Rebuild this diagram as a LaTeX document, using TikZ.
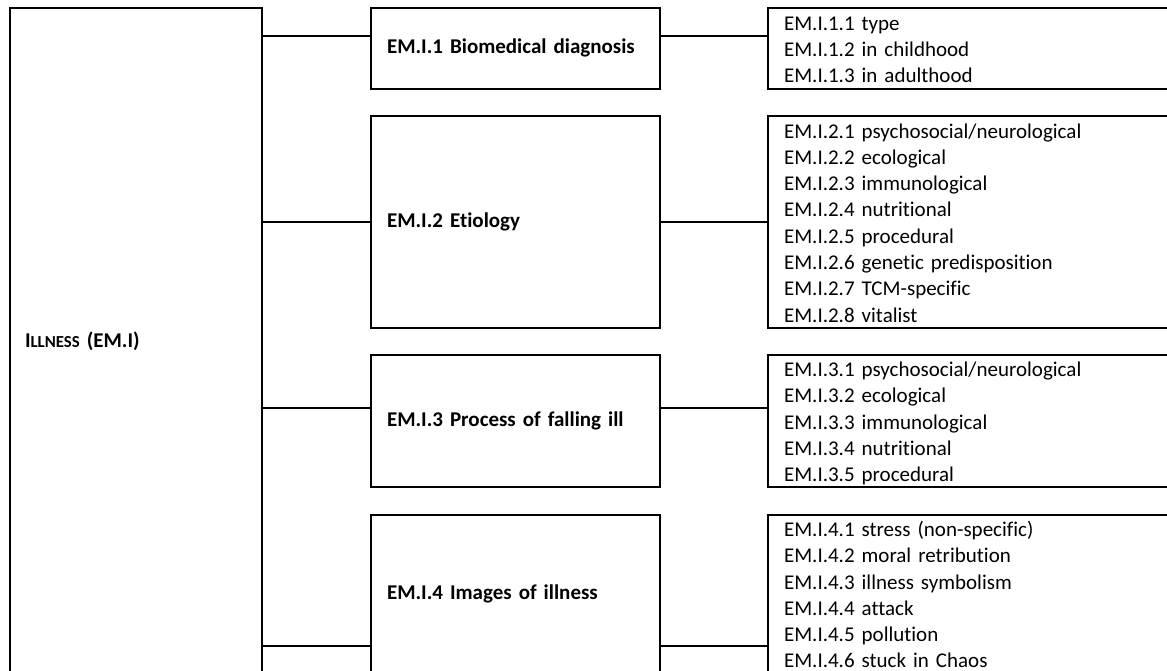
\documentclass[tikz,border=0pt]{standalone}
\usepackage{fontspec}
\setmainfont{Carlito}[Ligatures=NoCommon]
\newcommand{\ls}{\rule[-5pt]{0pt}{26.3pt}}
\begin{document}
\begin{tikzpicture}[x=1pt,y=-1pt,line width=2pt,
  every node/.style={font=\fontsize{21}{26.3}\selectfont},
  frame/.style={draw,line width=2pt,rectangle,anchor=north west,outer sep=0pt,inner ysep=0pt,align=left},
  rootbox/.style={frame,minimum width=252pt,text width=222pt,inner xsep=15pt,font=\fontsize{21}{26.3}\selectfont\bfseries,text height=15.75pt,text depth=5.25pt},
  midbox/.style={frame,minimum width=289pt,text width=257pt,inner xsep=16pt,font=\fontsize{21}{26.3}\selectfont\bfseries,text height=15.75pt,text depth=5.25pt},
  leafbox/.style={frame,minimum width=420pt,text width=388pt,inner xsep=16pt},
  link/.style={draw,line width=2pt}]
\useasboundingbox (0,0) rectangle (1167,671);
\clip (0,0) rectangle (1167,671);

\node[rootbox,minimum height=669pt] (root) at (10,8) {I{\fontsize{16.8}{20}\selectfont LLNESS} (EM.I)};

\node[midbox,minimum height=81pt]  (m1) at (371,8)   {EM.I.1 Biomedical diagnosis};
\node[midbox,minimum height=212pt] (m2) at (371,116) {EM.I.2 Etiology};
\node[midbox,minimum height=132pt] (m3) at (371,355) {EM.I.3 Process of falling ill};
\node[midbox,minimum height=158pt] (m4) at (371,515) {EM.I.4 Images of illness};

\node[leafbox,minimum height=81pt] (r1) at (768,8) {\ls EM.I.1.1 type\\\ls EM.I.1.2 in childhood\\\ls EM.I.1.3 in adulthood};
\node[leafbox,minimum height=212pt] (r2) at (768,116) {\ls EM.I.2.1 psychosocial/neurological\\\ls EM.I.2.2 ecological\\\ls EM.I.2.3 immunological\\\ls EM.I.2.4 nutritional\\\ls EM.I.2.5 procedural\\\ls EM.I.2.6 genetic predisposition\\\ls EM.I.2.7 TCM-specific\\\ls EM.I.2.8 vitalist};
\node[leafbox,minimum height=132pt] (r3) at (768,355) {\ls EM.I.3.1 psychosocial/neurological\\\ls EM.I.3.2 ecological\\\ls EM.I.3.3 immunological\\\ls EM.I.3.4 nutritional\\\ls EM.I.3.5 procedural};
\node[leafbox,minimum height=158pt] (r4) at (768,515) {\ls EM.I.4.1 stress (non-specific)\\\ls EM.I.4.2 moral retribution\\\ls EM.I.4.3 illness symbolism\\\ls EM.I.4.4 attack\\\ls EM.I.4.5 pollution\\\ls EM.I.4.6 stuck in Chaos};

\coordinate (y1) at (0,35.7);
\coordinate (y2) at (0,222);
\coordinate (y3) at (0,408);
\coordinate (y4) at (0,646);

\draw[link] (y1 -| root.east) -- (y1 -| m1.west);
\draw[link] (y2 -| root.east) -- (y2 -| m2.west);
\draw[link] (y3 -| root.east) -- (y3 -| m3.west);
\draw[link] (y4 -| root.east) -- (y4 -| m4.west);

\draw[link] (y1 -| m1.east) -- (y1 -| r1.west);
\draw[link] (y2 -| m2.east) -- (y2 -| r2.west);
\draw[link] (y3 -| m3.east) -- (y3 -| r3.west);
\draw[link] (y4 -| m4.east) -- (y4 -| r4.west);
\end{tikzpicture}
\end{document}
